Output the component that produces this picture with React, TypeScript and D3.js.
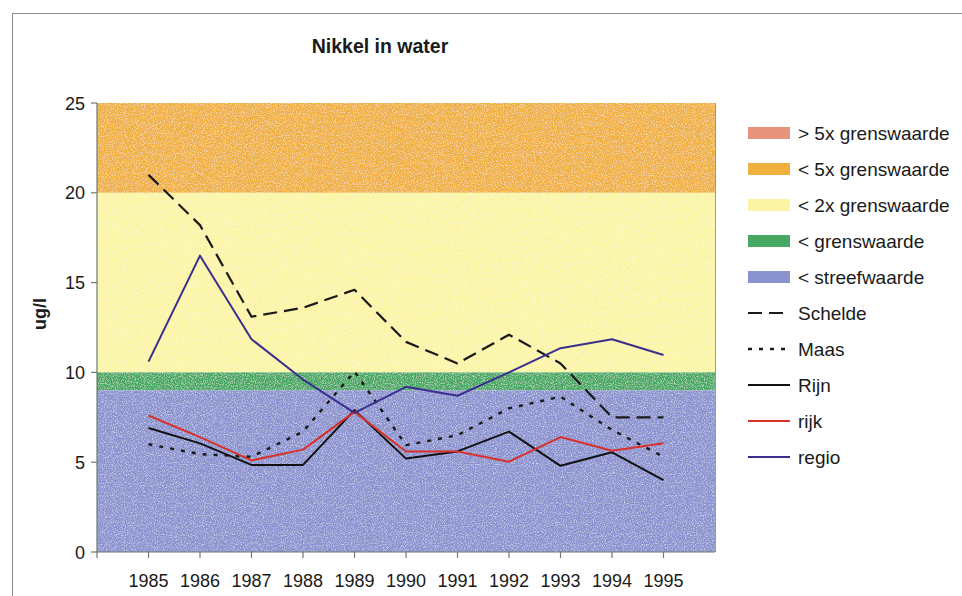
import React from "react";
import * as d3 from "d3";

const years = ["1985","1986","1987","1988","1989","1990","1991","1992","1993","1994","1995"];
const schelde = [21.0, 18.2, 13.1, 13.6, 14.6, 11.7, 10.5, 12.1, 10.5, 7.5, 7.5];
const maas = [6.0, 5.45, 5.3, 6.7, 10.05, 5.95, 6.5, 8.0, 8.65, 6.8, 5.3];
const rijn = [6.9, 6.05, 4.85, 4.85, 7.9, 5.2, 5.6, 6.7, 4.8, 5.55, 4.0];
const rijk = [7.6, 6.4, 5.1, 5.7, 7.8, 5.6, 5.6, 5.03, 6.4, 5.64, 6.05];
const regio = [10.6, 16.5, 11.85, 9.6, 7.75, 9.2, 8.7, 10.0, 11.35, 11.85, 10.97];
const yTicks = [0, 5, 10, 15, 20, 25];

const bands = [
  { label: "> 5x grenswaarde", lo: 25, hi: 25, color: "#e8937c" },
  { label: "< 5x grenswaarde", lo: 20, hi: 25, color: "#f0b03e" },
  { label: "< 2x grenswaarde", lo: 10, hi: 20, color: "#fbf5a3" },
  { label: "< grenswaarde", lo: 9, hi: 10, color: "#46a862" },
  { label: "< streefwaarde", lo: 0, hi: 9, color: "#8a92cf" },
];

const series = [
  { label: "Schelde", values: schelde, color: "#1a1a1a", dash: "14 7", width: 2.2 },
  { label: "Maas", values: maas, color: "#1a1a1a", dash: "4 7", width: 2.4 },
  { label: "Rijn", values: rijn, color: "#111111", dash: "", width: 2 },
  { label: "rijk", values: rijk, color: "#d9302a", dash: "", width: 2 },
  { label: "regio", values: regio, color: "#3b2e8e", dash: "", width: 2 },
];

export default function App() {
  const W = 962, H = 596;
  const left = 97, right = 715, top = 103, bottom = 552;
  const x = d3.scaleLinear().domain([0, 12]).range([left, right]);
  const y = d3.scaleLinear().domain([0, 25]).range([bottom, top]);
  const line = d3.line<number>().x((_, i) => x(i + 1)).y((d) => y(d));
  const font = "Arial, 'Liberation Sans', sans-serif";
  const legendX = 748, legendY0 = 133, legendStep = 36;

  return (
    <svg width={W} height={H} style={{ position: "absolute", left: 0, top: 0, background: "#fff" }} fontFamily={font}>
      <defs>
        <filter id="grain" x="0" y="0" width="100%" height="100%">
          <feTurbulence type="fractalNoise" baseFrequency="0.9" numOctaves="2" seed="3" result="n" />
          <feColorMatrix in="n" type="matrix"
            values="0 0 0 0 1  0 0 0 0 1  0 0 0 0 1  0 0 0 -1.4 0.75" result="w" />
          <feComposite in="w" in2="SourceGraphic" operator="in" result="wm" />
          <feBlend in="SourceGraphic" in2="wm" mode="screen" />
        </filter>
      </defs>
      <rect x={0} y={0} width={W} height={H} fill="#fff" />
      <rect x={12.5} y={13.5} width={W + 20} height={H + 20} fill="none" stroke="#8a8f8c" strokeWidth={1} />
      <text x={380} y={53} textAnchor="middle" fontSize={19.5} fontWeight="bold" fill="#1a1a1a">Nikkel in water</text>
      <text transform={`translate(46,314) rotate(-90)`} textAnchor="middle" fontSize={18} fontWeight="bold" fill="#1a1a1a">ug/l</text>

      <g filter="url(#grain)">
        {bands.filter((b) => b.hi > b.lo).map((b) => (
          <rect key={b.label} x={left} y={y(b.hi)} width={right - left} height={y(b.lo) - y(b.hi)} fill={b.color} />
        ))}
      </g>
      <line x1={right + 0.5} x2={right + 0.5} y1={top} y2={bottom} stroke="#9a9a9a" strokeWidth={1} />

      {/* axes */}
      <line x1={left} x2={left} y1={top} y2={bottom} stroke="#6d7a72" strokeWidth={1.2} />
      <line x1={left} x2={right} y1={bottom} y2={bottom} stroke="#6d7a72" strokeWidth={1.2} />
      {yTicks.map((t) => (
        <g key={t}>
          <line x1={left - 6} x2={left} y1={y(t)} y2={y(t)} stroke="#6d7a72" strokeWidth={1.2} />
          <text x={left - 12} y={y(t) + 6.5} textAnchor="end" fontSize={18} fill="#1a1a1a">{t}</text>
        </g>
      ))}
      {d3.range(0, 12).map((i) => (
        <line key={i} x1={x(i)} x2={x(i)} y1={bottom} y2={bottom + 6} stroke="#6d7a72" strokeWidth={1.2} />
      ))}
      {years.map((yr, i) => (
        <text key={yr} x={x(i + 1)} y={bottom + 35} textAnchor="middle" fontSize={18} fill="#1a1a1a">{yr}</text>
      ))}

      {series.map((s) => (
        <path key={s.label} d={line(s.values) || ""} fill="none" stroke={s.color} strokeWidth={s.width}
          strokeDasharray={s.dash || undefined} strokeLinejoin="round" />
      ))}

      {/* legend */}
      {bands.map((b, i) => (
        <g key={b.label}>
          <rect x={legendX} y={legendY0 + i * legendStep - 6} width={42} height={12} fill={b.color} />
          <text x={798} y={legendY0 + i * legendStep + 6.5} fontSize={19} fill="#1a1a1a">{b.label}</text>
        </g>
      ))}
      {series.map((s, j) => {
        const i = j + bands.length;
        const cy = legendY0 + i * legendStep;
        return (
          <g key={s.label}>
            <line x1={legendX} x2={legendX + 42} y1={cy} y2={cy} stroke={s.color} strokeWidth={s.width}
              strokeDasharray={s.dash || undefined} />
            <text x={798} y={cy + 6.5} fontSize={19} fill="#1a1a1a">{s.label}</text>
          </g>
        );
      })}
    </svg>
  );
}
